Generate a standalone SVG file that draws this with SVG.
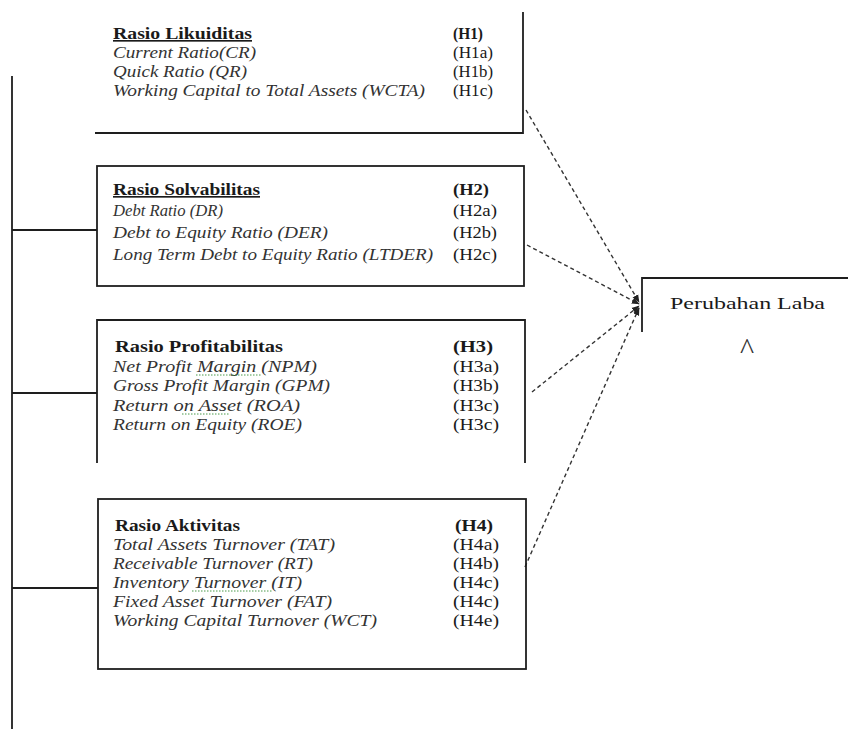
<svg xmlns="http://www.w3.org/2000/svg" width="848" height="729" viewBox="0 0 848 729">
<style>
.ln{stroke:#1e1e1e;stroke-width:1.8;fill:none}
.t{font-family:"Liberation Serif","Times New Roman",serif;font-size:16.5px;fill:#1a1a1a}
.i{font-style:italic;fill:#333}
.b{font-weight:bold}
.u{text-decoration:underline}
.d{stroke:#333;stroke-width:1.4;stroke-dasharray:4 3;fill:none}
.sq{stroke:#4a9a4a;stroke-width:1;stroke-dasharray:1.5 1.5;fill:none}
</style>
<defs>
<marker id="ah" viewBox="0 0 10 10" refX="9" refY="5" markerWidth="8" markerHeight="8" orient="auto" markerUnits="userSpaceOnUse">
<path d="M0,1 L10,5 L0,9 z" fill="#222"/>
</marker>
</defs>
<rect width="848" height="729" fill="#fff"/>

<g id="connectors">
<path class="ln" d="M12,76 V729 M12,230 H97 M12,393 H97 M12,588 H98"/>
<line class="d" x1="526" y1="110" x2="639" y2="302" marker-end="url(#ah)"/>
<line class="d" x1="527" y1="245" x2="639" y2="304" marker-end="url(#ah)"/>
<line class="d" x1="532" y1="392" x2="639" y2="306" marker-end="url(#ah)"/>
<line class="d" x1="525" y1="567" x2="639" y2="308" marker-end="url(#ah)"/>
</g>

<g id="likuiditas">
<path class="ln" d="M523,12 V133 H95"/>
<text class="t b u" x="113" y="39" textLength="139" lengthAdjust="spacingAndGlyphs">Rasio Likuiditas</text>
<text class="t i" x="113" y="58" textLength="143" lengthAdjust="spacingAndGlyphs">Current Ratio(CR)</text>
<text class="t i" x="113" y="77" textLength="134" lengthAdjust="spacingAndGlyphs">Quick Ratio (QR)</text>
<text class="t i" x="113" y="96" textLength="312" lengthAdjust="spacingAndGlyphs">Working Capital to Total Assets (WCTA)</text>
<text class="t b" x="453" y="39" textLength="30" lengthAdjust="spacingAndGlyphs">(H1)</text>
<text class="t" x="453" y="58" textLength="40" lengthAdjust="spacingAndGlyphs">(H1a)</text>
<text class="t" x="453" y="77" textLength="40" lengthAdjust="spacingAndGlyphs">(H1b)</text>
<text class="t" x="453" y="96" textLength="40" lengthAdjust="spacingAndGlyphs">(H1c)</text>
</g>

<g id="solvabilitas">
<rect class="ln" x="97" y="166" width="427" height="120"/>
<text class="t b u" x="113" y="195" textLength="147" lengthAdjust="spacingAndGlyphs">Rasio Solvabilitas</text>
<text class="t i" x="113" y="216" textLength="110" lengthAdjust="spacingAndGlyphs">Debt Ratio (DR)</text>
<text class="t i" x="113" y="238" textLength="215" lengthAdjust="spacingAndGlyphs">Debt to Equity Ratio (DER)</text>
<text class="t i" x="113" y="260" textLength="320" lengthAdjust="spacingAndGlyphs">Long Term Debt to Equity Ratio (LTDER)</text>
<text class="t b" x="453" y="195" textLength="36" lengthAdjust="spacingAndGlyphs">(H2)</text>
<text class="t" x="453" y="216" textLength="44" lengthAdjust="spacingAndGlyphs">(H2a)</text>
<text class="t" x="453" y="238" textLength="44" lengthAdjust="spacingAndGlyphs">(H2b)</text>
<text class="t" x="453" y="260" textLength="44" lengthAdjust="spacingAndGlyphs">(H2c)</text>
</g>

<g id="profitabilitas">
<path class="ln" d="M97,463 V320 H525 V463"/>
<text class="t b" x="115" y="352" textLength="168" lengthAdjust="spacingAndGlyphs">Rasio Profitabilitas</text>
<text class="t i" x="113" y="372" textLength="204" lengthAdjust="spacingAndGlyphs">Net Profit Margin  (NPM)</text>
<text class="t i" x="113" y="391" textLength="217" lengthAdjust="spacingAndGlyphs">Gross Profit Margin (GPM)</text>
<text class="t i" x="113" y="411" textLength="187" lengthAdjust="spacingAndGlyphs">Return on Asset  (ROA)</text>
<text class="t i" x="113" y="430" textLength="189" lengthAdjust="spacingAndGlyphs">Return on Equity (ROE)</text>
<text class="t b" x="453" y="352" textLength="40" lengthAdjust="spacingAndGlyphs">(H3)</text>
<text class="t" x="453" y="372" textLength="46" lengthAdjust="spacingAndGlyphs">(H3a)</text>
<text class="t" x="453" y="391" textLength="46" lengthAdjust="spacingAndGlyphs">(H3b)</text>
<text class="t" x="453" y="411" textLength="46" lengthAdjust="spacingAndGlyphs">(H3c)</text>
<text class="t" x="453" y="430" textLength="46" lengthAdjust="spacingAndGlyphs">(H3c)</text>
<path class="sq" d="M196,375 H262 M182,414 H230"/>
</g>

<g id="aktivitas">
<rect class="ln" x="98" y="499" width="428" height="170"/>
<text class="t b" x="115" y="531" textLength="125" lengthAdjust="spacingAndGlyphs">Rasio Aktivitas</text>
<text class="t i" x="113" y="550" textLength="222" lengthAdjust="spacingAndGlyphs">Total Assets Turnover (TAT)</text>
<text class="t i" x="113" y="569" textLength="200" lengthAdjust="spacingAndGlyphs">Receivable Turnover (RT)</text>
<text class="t i" x="113" y="588" textLength="189" lengthAdjust="spacingAndGlyphs">Inventory Turnover  (IT)</text>
<text class="t i" x="113" y="607" textLength="219" lengthAdjust="spacingAndGlyphs">Fixed Asset Turnover (FAT)</text>
<text class="t i" x="113" y="626" textLength="264" lengthAdjust="spacingAndGlyphs">Working Capital Turnover (WCT)</text>
<text class="t b" x="455" y="531" textLength="38" lengthAdjust="spacingAndGlyphs">(H4)</text>
<text class="t" x="453" y="550" textLength="46" lengthAdjust="spacingAndGlyphs">(H4a)</text>
<text class="t" x="453" y="569" textLength="46" lengthAdjust="spacingAndGlyphs">(H4b)</text>
<text class="t" x="453" y="588" textLength="46" lengthAdjust="spacingAndGlyphs">(H4c)</text>
<text class="t" x="453" y="607" textLength="46" lengthAdjust="spacingAndGlyphs">(H4c)</text>
<text class="t" x="453" y="626" textLength="46" lengthAdjust="spacingAndGlyphs">(H4e)</text>
<path class="sq" d="M192,591 H272"/>
</g>

<g id="perubahan-laba">
<path class="ln" d="M642,332 V278 H848"/>
<text class="t" x="670" y="309" textLength="155" lengthAdjust="spacingAndGlyphs">Perubahan Laba</text>
<text x="747" y="359" text-anchor="middle" style="font-family:'Liberation Serif',serif;font-size:30px;fill:#333">^</text>
</g>
</svg>
